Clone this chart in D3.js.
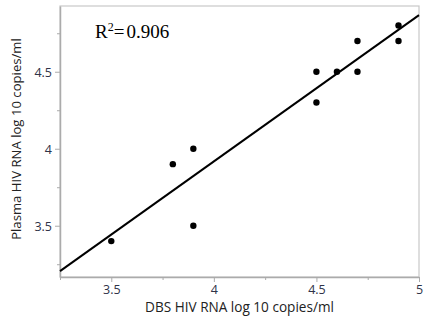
<!DOCTYPE html>
<html><head><meta charset="utf-8">
<script src="https://cdn.jsdelivr.net/npm/d3@7"></script>
<style>
html,body{margin:0;padding:0;background:#fff;}
svg{display:block;}
</style></head>
<body>
<script>
const dbs    = [3.5, 3.8, 3.9, 3.9, 4.5, 4.5, 4.6, 4.7, 4.7, 4.9, 4.9];
const plasma = [3.4, 3.9, 4.0, 3.5, 4.5, 4.3, 4.5, 4.7, 4.5, 4.8, 4.7];
const xTicks = [3.5, 4, 4.5, 5];
const xMinor = [3.25, 3.75, 4.25, 4.75];
const yTicks = [3.5, 4, 4.5];
const yMinor = [3.25, 3.75, 4.25, 4.75];
const xDomain = [3.25, 5];
const yDomain = [3.167, 4.927];
const rsqText = "0.906";
const xTitle = "DBS HIV RNA log 10 copies/ml";
const yTitle = "Plasma HIV RNA log 10 copies/ml";

const W = 431, H = 329;
const L = 60, R = 419, T = 6, B = 277;
const svg = d3.select("body").append("svg").attr("width", W).attr("height", H);

const x = d3.scaleLinear().domain(xDomain).range([L, R]);
const y = d3.scaleLinear().domain(yDomain).range([B, T]);

const frameColor = "#ababab";
const tickFont = "'Open Sans', 'Noto Sans', sans-serif";

// frame
svg.append("rect").attr("x", L).attr("y", T).attr("width", R - L).attr("height", B - T)
  .attr("fill", "none").attr("stroke", "#c8c8c8").attr("stroke-width", 1.2);

// axes
const xAxis = svg.append("g").attr("transform", `translate(0,${B})`)
  .call(d3.axisBottom(x).tickValues(xTicks).tickSize(5).tickSizeOuter(0).tickPadding(3)
    .tickFormat(d => d3.format("")(d)));
svg.append("g").attr("transform", `translate(0,${B})`)
  .call(d3.axisBottom(x).tickValues(xMinor).tickSize(3).tickSizeOuter(0).tickFormat(""))
  .call(g => g.select(".domain").remove());
const yAxis = svg.append("g").attr("transform", `translate(${L},0)`)
  .call(d3.axisLeft(y).tickValues(yTicks).tickSize(5).tickSizeOuter(0).tickPadding(3)
    .tickFormat(d => d3.format("")(d)));
svg.append("g").attr("transform", `translate(${L},0)`)
  .call(d3.axisLeft(y).tickValues(yMinor).tickSize(3).tickSizeOuter(0).tickFormat(""))
  .call(g => g.select(".domain").remove());

svg.selectAll(".domain").attr("stroke", frameColor).attr("stroke-width", 1.5);
svg.selectAll(".tick line").attr("stroke", frameColor).attr("stroke-width", 1);
svg.selectAll(".tick text").attr("font-family", tickFont).attr("font-size", 12.5)
  .attr("fill", "#2f3348");
yAxis.selectAll(".tick text").attr("dy", "0.36em");

// regression line (least squares from data)
const mx = d3.mean(dbs), my = d3.mean(plasma);
const sxy = d3.sum(dbs, (v, i) => (v - mx) * (plasma[i] - my));
const sxx = d3.sum(dbs, v => (v - mx) * (v - mx));
const slope = sxy / sxx, icpt = my - slope * mx;
const lineData = xDomain.map(v => [v, icpt + slope * v]);
svg.append("path").datum(lineData)
  .attr("d", d3.line().x(d => x(d[0])).y(d => y(d[1])))
  .attr("stroke", "#000").attr("stroke-width", 2).attr("fill", "none");

// points
svg.selectAll("circle.pt").data(dbs.map((v, i) => [v, plasma[i]])).join("circle")
  .attr("class", "pt").attr("cx", d => x(d[0])).attr("cy", d => y(d[1])).attr("r", 3.2)
  .attr("fill", "#000");

// R^2 text
const rt = svg.append("text").attr("x", 95).attr("y", 38)
  .attr("font-family", "'Liberation Serif', 'Times New Roman', serif").attr("font-size", 19)
  .attr("fill", "#000");
rt.append("tspan").text("R");
rt.append("tspan").attr("font-size", 12).attr("dy", -7).text("2");
rt.append("tspan").attr("dy", 7).text("=");
rt.append("tspan").attr("dx", 2).text(rsqText);

// axis titles, font sized to fit the measured width in the reference
function fitText(sel, target) {
  let fs = 12.5;
  sel.attr("font-size", fs);
  const w = sel.node().getComputedTextLength();
  if (w > 0) sel.attr("font-size", fs * target / w);
}
const xt = svg.append("text").attr("x", (145 + 334) / 2).attr("y", 312).attr("text-anchor", "middle")
  .attr("font-family", tickFont).attr("fill", "#222").text(xTitle);
fitText(xt, 189);
const yt = svg.append("text").attr("transform", `translate(21,139) rotate(-90)`).attr("text-anchor", "middle")
  .attr("font-family", tickFont).attr("fill", "#222").text(yTitle);
fitText(yt, 202);
</script>
</body></html>
